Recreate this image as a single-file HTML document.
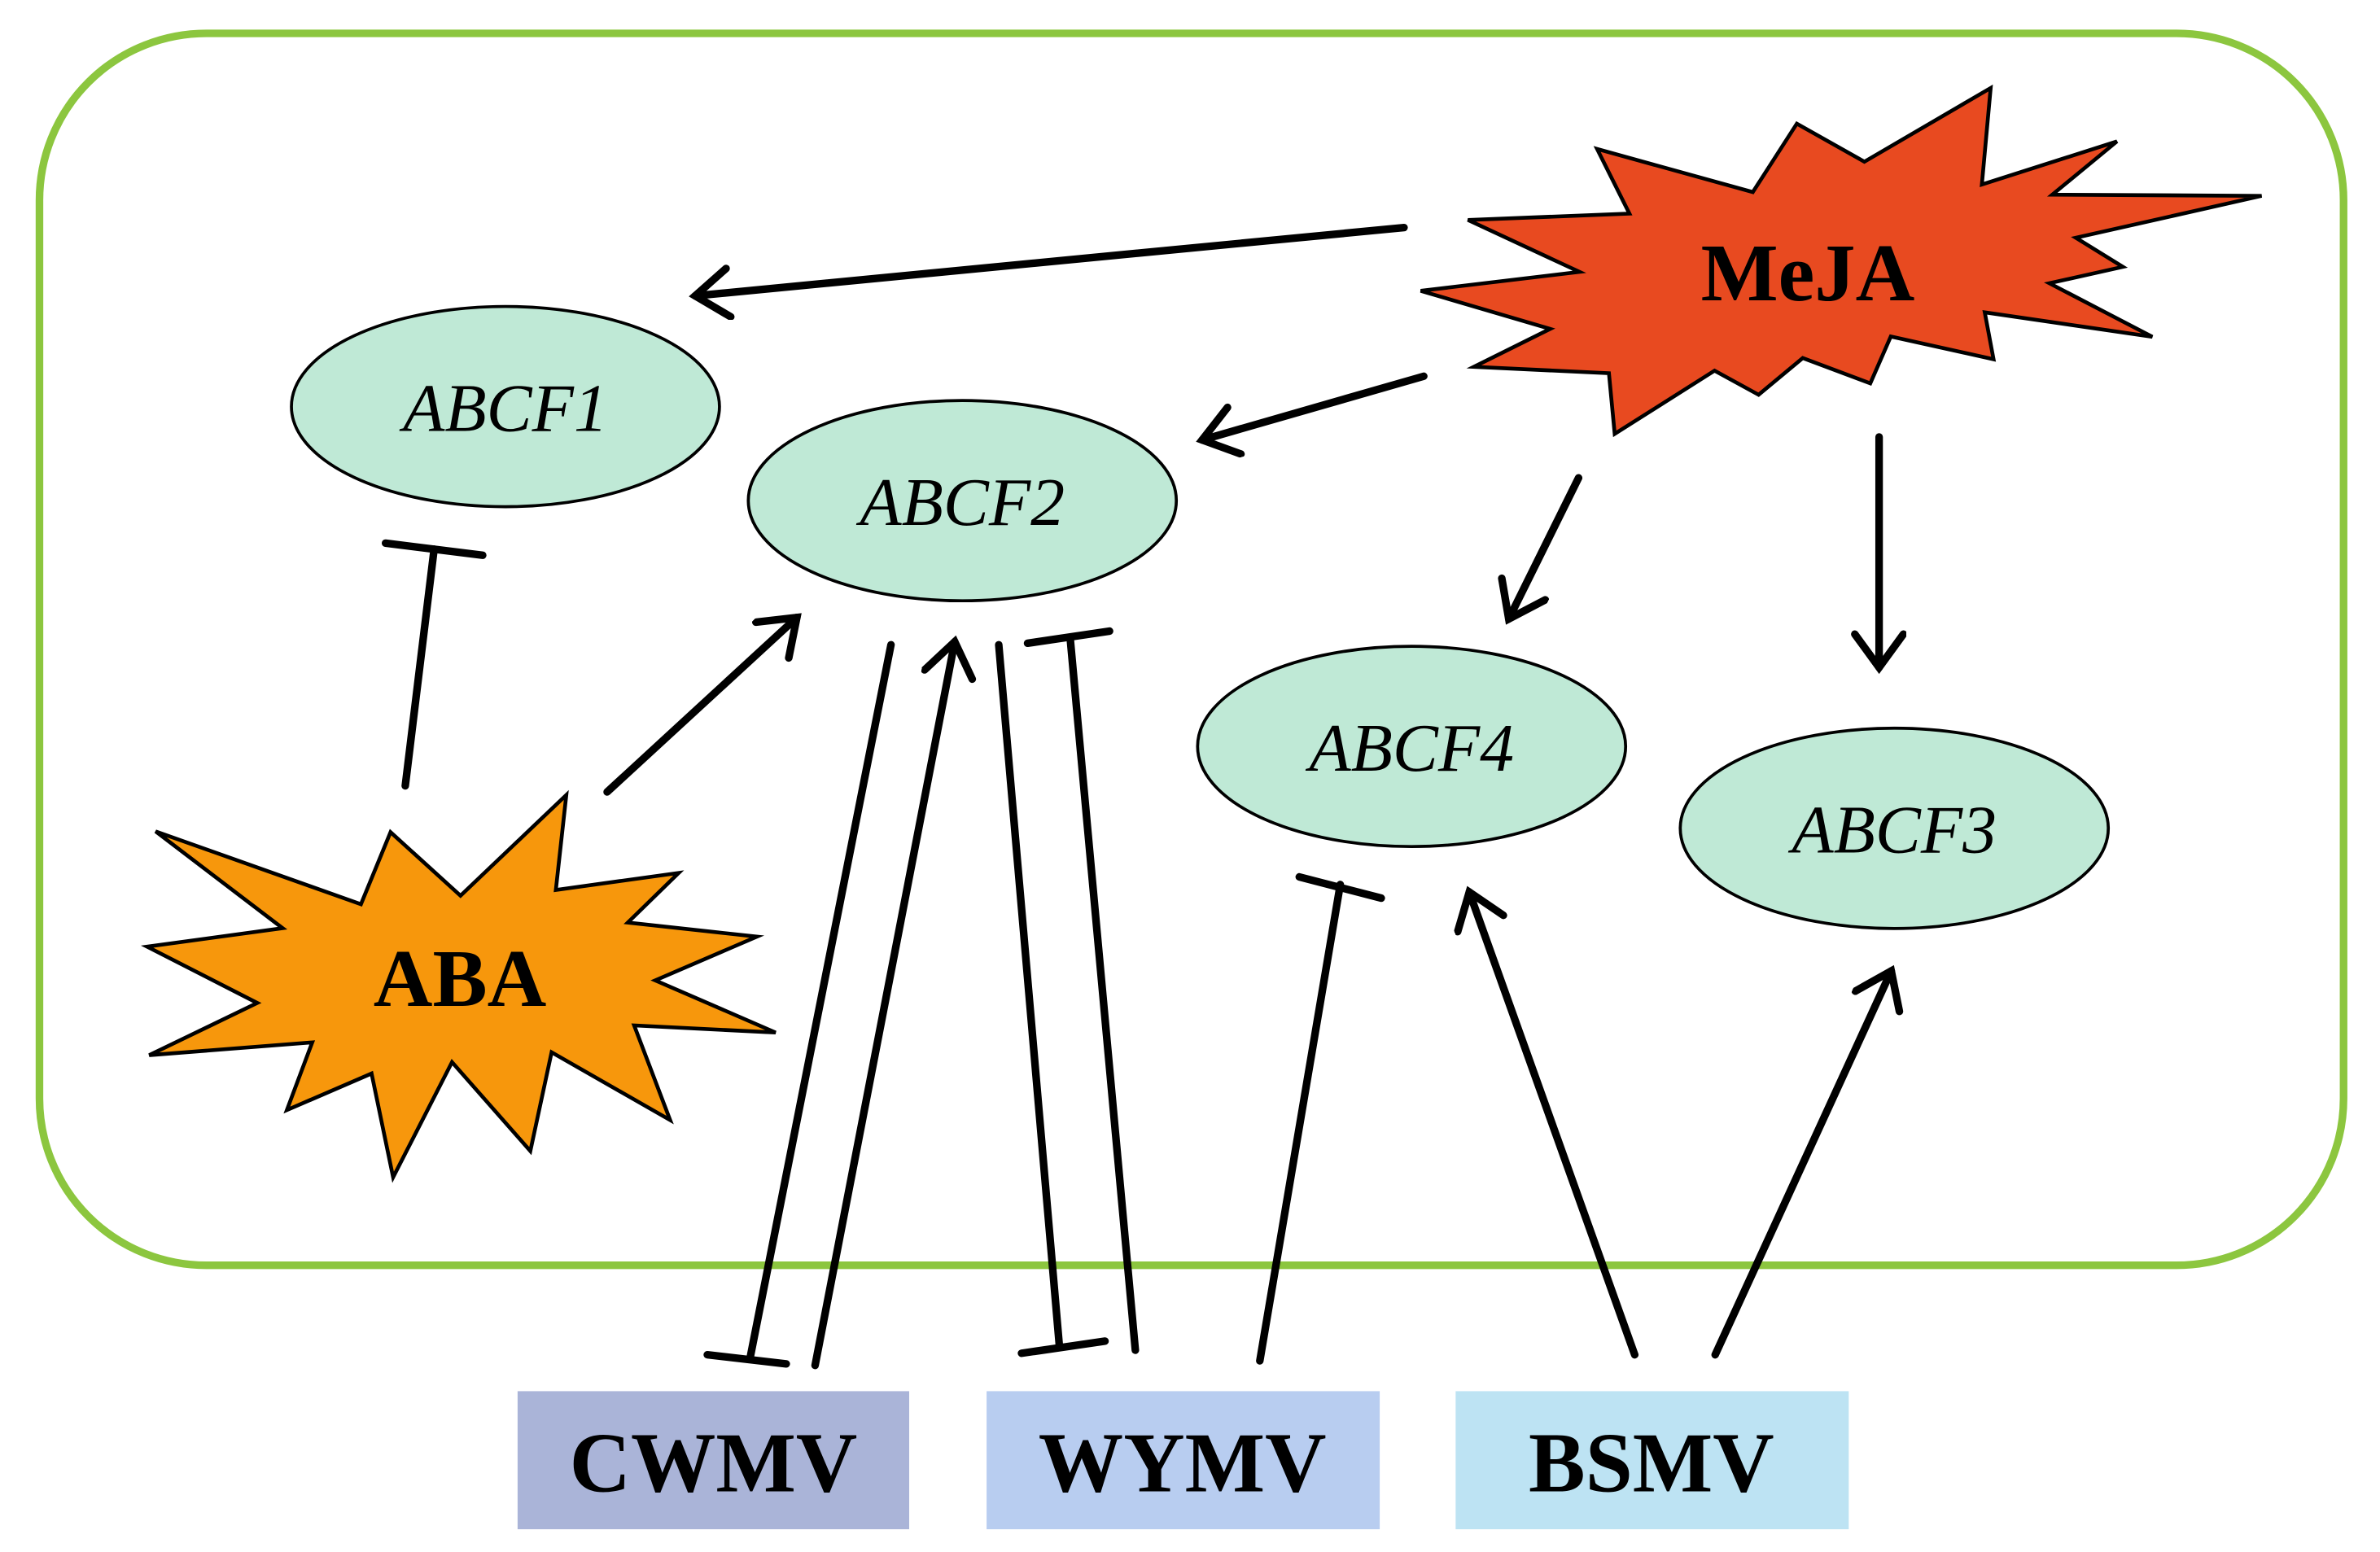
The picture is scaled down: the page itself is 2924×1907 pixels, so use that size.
<!DOCTYPE html>
<html><head><meta charset="utf-8"><style>html,body{margin:0;padding:0;background:#fff;}svg{display:block}</style></head>
<body>
<svg width="2924" height="1907" viewBox="0 0 1568 1023" preserveAspectRatio="none" xmlns="http://www.w3.org/2000/svg">
<defs>
<marker id="a" markerUnits="userSpaceOnUse" markerWidth="40" markerHeight="40" refX="28" refY="18" orient="auto" viewBox="0 0 40 40">
<path d="M6,2 L28,18 L6,34" fill="none" stroke="#000" stroke-width="5" stroke-linecap="round" stroke-linejoin="miter"/>
</marker>
</defs>
<rect x="26" y="22" width="1518" height="812" rx="110" ry="110" fill="none" stroke="#8cc63f" stroke-width="5"/>

<g fill="#bfe9d6" stroke="#000" stroke-width="2">
<ellipse cx="333" cy="268" rx="141" ry="66"/>
<ellipse cx="634" cy="330" rx="141" ry="66"/>
<ellipse cx="930" cy="492" rx="141" ry="66"/>
<ellipse cx="1248" cy="546" rx="141" ry="66"/>
</g>
<g font-family="Liberation Serif, serif" font-style="italic" font-size="45" text-anchor="middle">
<text x="333" y="284">ABCF1</text>
<text x="634" y="346">ABCF2</text>
<text x="930" y="508">ABCF4</text>
<text x="1248" y="562">ABCF3</text>
</g>

<polygon fill="#e84a20" stroke="#000" stroke-width="2.5" points="1311.5,58 1305.7,121.6 1394.7,93.2 1352.1,128.3 1490,129.1 1367.6,156.7 1398.6,175.9 1350.2,186.7 1418,222 1307.6,205.9 1313.4,236.8 1245.7,221.8 1232.2,252.7 1187.7,236 1158.6,260.2 1129.6,244.3 1063.8,286 1060,246 971,241.8 1021.3,216.8 936,191.7 1040.6,179.2 967.1,145 1073.5,140.8 1052.2,98.2 1154.8,126.6 1183.8,81.5 1228.3,106.6"/>
<text x="1191" y="198" font-family="Liberation Serif, serif" font-weight="bold" font-size="54" text-anchor="middle">MeJA</text>

<polygon fill="#f7970c" stroke="#000" stroke-width="2.5" points="373.1,524 366.2,586.6 447.1,575.4 413.6,608.1 498.7,617.4 431.7,646.2 511,680.6 417.8,675.9 441.5,738.3 363.4,693.6 349.4,758.7 297.8,700.1 259,776 244.8,707.6 189,731.7 205.7,687.1 98.3,695.5 169.5,661.1 96.9,624 186.2,611.8 102.5,548 237.8,596 257.3,548.5 303.4,590.4"/>
<text x="303" y="663" font-family="Liberation Serif, serif" font-weight="bold" font-size="54" text-anchor="middle">ABA</text>

<rect x="341" y="917" width="258" height="91" fill="#aab4d8"/>
<rect x="650" y="917" width="259" height="91" fill="#b8cdf0"/>
<rect x="959" y="917" width="259" height="91" fill="#bde3f3"/>
<g font-family="Liberation Serif, serif" font-weight="bold" font-size="56" text-anchor="middle">
<text x="470" y="983">CWMV</text>
<text x="779" y="983">WYMV</text>
<text x="1088" y="983">BSMV</text>
</g>

<g stroke="#000" stroke-width="5" stroke-linecap="round" fill="none">
<line x1="925" y1="150" x2="458" y2="195" marker-end="url(#a)"/>
<line x1="938" y1="248" x2="792" y2="290" marker-end="url(#a)"/>
<line x1="1040" y1="315" x2="994" y2="408" marker-end="url(#a)"/>
<line x1="1238" y1="288" x2="1238" y2="440" marker-end="url(#a)"/>
<line x1="267" y1="518" x2="286" y2="362"/>
<line x1="254" y1="358" x2="318" y2="366"/>
<line x1="400" y1="522" x2="525" y2="407" marker-end="url(#a)"/>
<line x1="587" y1="425" x2="494" y2="896"/>
<line x1="466" y1="893" x2="518" y2="899"/>
<line x1="537" y1="900" x2="629" y2="423" marker-end="url(#a)"/>
<line x1="658" y1="425" x2="698" y2="888"/>
<line x1="673" y1="892" x2="728" y2="884"/>
<line x1="748" y1="890" x2="705" y2="420"/>
<line x1="677" y1="424" x2="731" y2="416"/>
<line x1="830" y1="897" x2="883" y2="583"/>
<line x1="856" y1="578" x2="910" y2="592"/>
<line x1="1077" y1="893" x2="968" y2="588" marker-end="url(#a)"/>
<line x1="1130" y1="893" x2="1246" y2="640" marker-end="url(#a)"/>
</g>
</svg>
</body></html>
